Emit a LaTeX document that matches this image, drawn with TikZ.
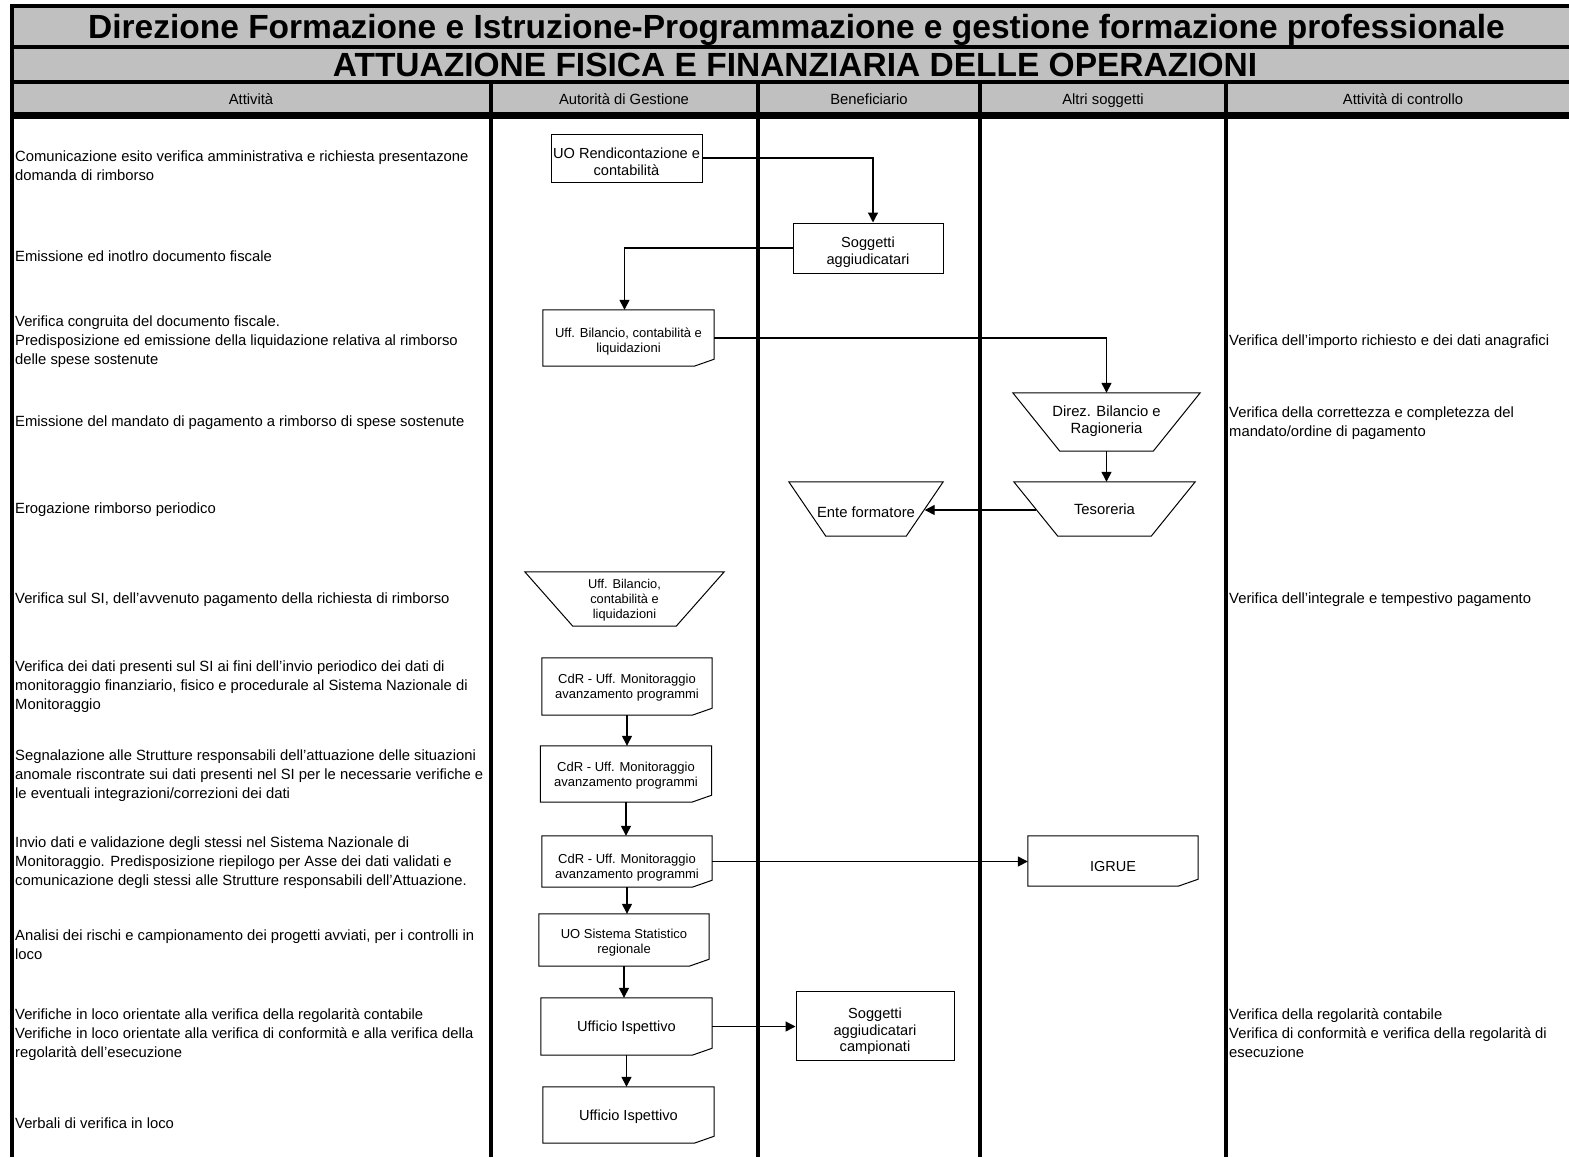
\documentclass[tikz,border=0pt]{standalone}
\usepackage{fontspec}
\setmainfont{Liberation Sans}
\usetikzlibrary{arrows.meta}
\definecolor{hdrgrey}{HTML}{C0C0C0}
\newcommand{\docoutline}[1]{\draw[line width=1pt] (#1.north west) -- (#1.north east) -- ([yshift=7pt]#1.south east) -- ([xshift=-20pt]#1.south east) -- (#1.south west) -- cycle;}
\newcommand{\trapoutline}[2]{\draw[line width=1pt] (#1.north west) -- (#1.north east) -- ([xshift=-#2]#1.south east) -- ([xshift=#2]#1.south west) -- cycle;}
\newcommand{\lowr}[2]{\raisebox{-#1}[\height][\depth]{\begin{tabular}{@{}c@{}}#2\end{tabular}}}
\begin{document}
\begin{tikzpicture}[x=1pt,y=-1pt,
  body/.style={anchor=west,inner sep=0pt,align=left,font=\fontsize{14.8}{19}\selectfont},
  hdr/.style={anchor=base,inner sep=0pt,font=\fontsize{14.8}{18}\selectfont},
  ttl/.style={anchor=base,inner sep=0pt,font=\fontsize{33.5}{36}\selectfont\bfseries},
  box/.style={draw,line width=1pt,inner sep=0pt,font=\fontsize{14.6}{17}\selectfont},
  docbox/.style={inner sep=0pt,font=\fontsize{13}{15}\selectfont},
  trap/.style={inner sep=0pt,font=\fontsize{14.8}{17}\selectfont},
  conn/.style={line width=1.3pt,-{Triangle[length=10pt,width=10pt]}},
  lane/.style={line width=4pt}
]
\useasboundingbox (0,0) rectangle (1569,1157);
\fill[white] (0,0) rectangle (1569,1157);
\fill[hdrgrey] (12,6) rectangle (1569,116);

% titles
\node[ttl] (title1) at (796.5,38.5) {Direzione Formazione e Istruzione-Programmazione e gestione formazione professionale};
\node[ttl] (title2) at (795,76.5) {ATTUAZIONE FISICA E FINANZIARIA DELLE OPERAZIONI};
\node[hdr] (h1) at (251,104) {Attività};
\node[hdr] (h2) at (624,104) {Autorità di Gestione};
\node[hdr] (h3) at (869,104) {Beneficiario};
\node[hdr] (h4) at (1103,104) {Altri soggetti};
\node[hdr] (h5) at (1403,104) {Attività di controllo};

% activity texts
\node[body] (a1) at (15,166) {Comunicazione esito verifica amministrativa e richiesta presentazone\\domanda di rimborso};
\node[body] (a2) at (15,256) {Emissione ed inotlro documento fiscale};
\node[body] (a3) at (15,342) {Verifica congruita del documento fiscale.\\Predisposizione ed emissione della liquidazione relativa al rimborso\\delle spese sostenute};
\node[body] (a4) at (15,423) {Emissione del mandato di pagamento a rimborso di spese sostenute};
\node[body] (a5) at (15,510) {Erogazione rimborso periodico};
\node[body] (a6) at (15,600) {Verifica sul SI, dell'avvenuto pagamento della richiesta di rimborso};
\node[body] (a7) at (15,687) {Verifica dei dati presenti sul SI ai fini dell'invio periodico dei dati di\\monitoraggio finanziario, fisico e procedurale al Sistema Nazionale di\\Monitoraggio};
\node[body] (a8) at (15,776) {Segnalazione alle Strutture responsabili dell'attuazione delle situazioni\\anomale riscontrate sui dati presenti nel SI per le necessarie verifiche e\\le eventuali integrazioni/correzioni dei dati};
\node[body] (a9) at (15,863) {Invio dati e validazione degli stessi nel Sistema Nazionale di\\Monitoraggio. Predisposizione riepilogo per Asse dei dati validati e\\comunicazione degli stessi alle Strutture responsabili dell'Attuazione.};
\node[body] (a10) at (15,944.5) {Analisi dei rischi e campionamento dei progetti avviati, per i controlli in\\loco};
\node[body] (a11) at (15,1035) {Verifiche in loco orientate alla verifica della regolarità contabile\\Verifiche in loco orientate alla verifica di conformità e alla verifica della\\regolarità dell'esecuzione};
\node[body] (a12) at (15,1123) {Verbali di verifica in loco};

% control texts
\node[body] (c1) at (1229,342) {Verifica dell'importo richiesto e dei dati anagrafici};
\node[body] (c2) at (1229,423.5) {Verifica della correttezza e completezza del\\mandato/ordine di pagamento};
\node[body] (c3) at (1229,600) {Verifica dell'integrale e tempestivo pagamento};
\node[body] (c4) at (1229,1033) {Verifica della regolarità contabile\\Verifica di conformità e verifica della regolarità di\\esecuzione};

% flow nodes
\node[box,minimum width=151pt,minimum height=48pt] (uorend) at (626.5,158) {\lowr{5.5pt}{UO Rendicontazione e\\contabilità}};
\node[box,minimum width=150pt,minimum height=50pt] (sogg) at (868,248) {\lowr{4.5pt}{Soggetti\\aggiudicatari}};
\node[docbox,minimum width=171pt,minimum height=56pt] (uffbil) at (628.5,338) {\lowr{3.5pt}{Uff. Bilancio, contabilità e\\liquidazioni}};
\node[trap,minimum width=187pt,minimum height=58pt] (direz) at (1106.5,422) {\lowr{-0.5pt}{Direz. Bilancio e\\Ragioneria}};
\node[trap,minimum width=181pt,minimum height=54pt] (tes) at (1104.5,509) {\lowr{2pt}{Tesoreria}};
\node[trap,minimum width=154pt,minimum height=54pt] (ente) at (866,509) {\lowr{5pt}{Ente formatore}};
\node[trap,minimum width=199pt,minimum height=54pt,font=\fontsize{12.8}{15}\selectfont] (uffbil2) at (624.5,599) {\lowr{1pt}{Uff. Bilancio,\\contabilità e\\liquidazioni}};
\node[docbox,minimum width=170pt,minimum height=57pt] (cdr1) at (627,686.5) {\lowr{1pt}{CdR - Uff. Monitoraggio\\avanzamento programmi}};
\node[docbox,minimum width=171pt,minimum height=56pt] (cdr2) at (626,774) {\lowr{2pt}{CdR - Uff. Monitoraggio\\avanzamento programmi}};
\node[docbox,minimum width=170pt,minimum height=51pt] (cdr3) at (627,861.5) {\lowr{6pt}{CdR - Uff. Monitoraggio\\avanzamento programmi}};
\node[docbox,minimum width=170pt,minimum height=50pt,font=\fontsize{14.5}{17}\selectfont] (igrue) at (1113,861) {\lowr{7pt}{IGRUE}};
\node[docbox,minimum width=170pt,minimum height=52pt] (uosis) at (624,940) {\lowr{2.5pt}{UO Sistema Statistico\\regionale}};
\node[docbox,minimum width=171pt,minimum height=57pt,font=\fontsize{14.6}{17}\selectfont] (ufisp1) at (626.5,1026.5) {\lowr{1.5pt}{Ufficio Ispettivo}};
\node[box,minimum width=158pt,minimum height=69pt,font=\fontsize{14.6}{16.5}\selectfont] (soggc) at (875,1025.5) {\lowr{6.5pt}{Soggetti\\aggiudicatari\\campionati}};
\node[docbox,minimum width=171pt,minimum height=56pt,font=\fontsize{14.6}{17}\selectfont] (ufisp2) at (628.5,1115) {\lowr{2pt}{Ufficio Ispettivo}};

\docoutline{uffbil}
\docoutline{cdr1}
\docoutline{cdr2}
\docoutline{cdr3}
\docoutline{igrue}
\docoutline{uosis}
\docoutline{ufisp1}
\docoutline{ufisp2}
\trapoutline{direz}{47pt}
\trapoutline{tes}{44pt}
\trapoutline{ente}{37pt}
\trapoutline{uffbil2}{48pt}

% connectors
\draw[conn] (uorend.east) -| ([xshift=5pt]sogg.north);
\draw[conn] (sogg.west) -| ([xshift=-4pt]uffbil.north);
\draw[conn] (uffbil.east) -| (direz.north);
\draw[conn] (direz.south) -- (direz.south |- tes.north);
\draw[conn] ([xshift=22pt,yshift=-1pt]tes.west) -- ([xshift=-18.5pt,yshift=-1pt]ente.east);
\draw[conn] (cdr1.south) -- (cdr1.south |- cdr2.north);
\draw[conn] (cdr2.south) -- (cdr2.south |- cdr3.north);
\draw[conn] (cdr3.east) -- (cdr3.east -| igrue.west);
\draw[conn] (cdr3.south) -- (cdr3.south |- uosis.north);
\draw[conn] (uosis.south) -- (uosis.south |- ufisp1.north);
\draw[conn] (ufisp1.east) -- (ufisp1.east -| soggc.west);
\draw[conn] (ufisp1.south) -- (ufisp1.south |- ufisp2.north);

% frame and lanes
\draw[lane] (12,4) -- (12,1157);
\draw[lane] (10,6) -- (1569,6);
\draw[lane] (10,47) -- (1569,47);
\draw[lane] (10,82) -- (1569,82);
\draw[line width=7pt] (10,115.5) -- (1569,115.5);
\draw[lane] (491,82) -- (491,1157);
\draw[lane] (758,82) -- (758,1157);
\draw[lane] (980,82) -- (980,1157);
\draw[lane] (1226,82) -- (1226,1157);
\end{tikzpicture}
\end{document}
